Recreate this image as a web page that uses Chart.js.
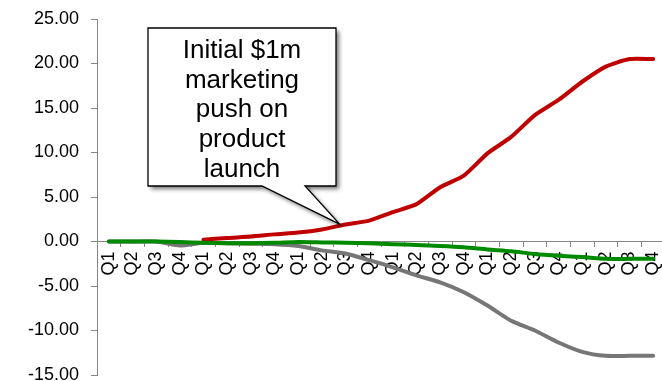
<!DOCTYPE html>
<html>
<head>
<meta charset="utf-8">
<script src="https://cdn.jsdelivr.net/npm/chart.js@4.4.0/dist/chart.umd.min.js"></script>
<style>
html, body { margin:0; padding:0; background:#fff; overflow:hidden; }
</style>
</head>
<body>
<canvas id="c" width="666" height="381"></canvas>
<script>
// categories: six years of quarters
var quarters = [];
for (var y = 0; y < 6; y++) {
	quarters.push('Q1', 'Q2', 'Q3', 'Q4');
}

// series values
var redSeries = [null, null, null, null, 0.2, 0.4, 0.55, 0.8, 1.0, 1.35, 1.9, 2.35,
	3.3, 4.2, 6.1, 7.4, 9.9, 11.75, 14.2, 15.9, 17.95, 19.65, 20.5, 20.5];
var greySeries = [0, 0, 0, -0.45, -0.15, -0.2, -0.25, -0.3, -0.5, -1.0, -1.35, -2.1,
	-2.9, -3.8, -4.6, -5.7, -7.2, -8.9, -10.0, -11.35, -12.4, -12.85, -12.85, -12.85];
var greenSeries = [0, 0, 0, -0.05, -0.15, -0.2, -0.2, -0.15, -0.05, -0.1, -0.15, -0.2,
	-0.3, -0.4, -0.5, -0.65, -0.9, -1.1, -1.4, -1.6, -1.75, -1.95, -1.95, -1.95];

var yMin = -15, yMax = 25, yStep = 5;
var calloutLines = ['Initial $1m', 'marketing', 'push on', 'product', 'launch'];
var calloutAt = { index: 9.75, value: 1.95 }; // where the pointer touches the red line

var FONT = "'Liberation Sans', Arial, sans-serif";
var AXIS = '#868686';

// speech bubble annotation
var calloutPlugin = {
	id: 'callout',
	afterDraw: function(chart) {
		var ctx = chart.ctx;
		var xs = chart.scales.x, ys = chart.scales.y;
		var tipX = xs.getPixelForValue(calloutAt.index);
		var tipY = ys.getPixelForValue(calloutAt.value);
		var L = 148, T = 28, R = 336, B = 186;
		ctx.save();
		ctx.beginPath();
		ctx.moveTo(L, T);
		ctx.lineTo(R, T);
		ctx.lineTo(R, B);
		ctx.lineTo(305, B);
		ctx.lineTo(tipX, tipY);
		ctx.lineTo(262, B);
		ctx.lineTo(L, B);
		ctx.closePath();
		ctx.shadowColor = 'rgba(0,0,0,0.55)';
		ctx.shadowBlur = 4;
		ctx.shadowOffsetX = 3;
		ctx.shadowOffsetY = 3;
		ctx.fillStyle = '#fff';
		ctx.fill();
		ctx.shadowColor = 'transparent';
		ctx.lineWidth = 1.3;
		ctx.strokeStyle = '#000';
		ctx.stroke();
		ctx.fillStyle = '#000';
		ctx.font = '26px ' + FONT;
		ctx.textAlign = 'center';
		ctx.textBaseline = 'alphabetic';
		for (var i = 0; i < calloutLines.length; i++) {
			ctx.fillText(calloutLines[i], (L + R) / 2, 58 + i * 29.7);
		}
		ctx.restore();
	}
};

var config = {
	type: 'line',
	data: {
		labels: quarters,
		datasets: [{
			label: 'Green',
			data: greenSeries,
			borderColor: '#008A00',
			backgroundColor: '#008A00'
		}, {
			label: 'Red',
			data: redSeries,
			borderColor: '#C00000',
			backgroundColor: '#C00000'
		}, {
			label: 'Grey',
			data: greySeries,
			borderColor: '#767676',
			backgroundColor: '#767676'
		}]
	},
	options: {
		responsive: false,
		animation: false,
		devicePixelRatio: 1,
		layout: { padding: { left: 0, right: 1, top: 19, bottom: 6 } },
		elements: {
			line: { borderWidth: 4, tension: 0.2, borderCapStyle: 'round', borderJoinStyle: 'round' },
			point: { radius: 0, hoverRadius: 0 }
		},
		plugins: {
			legend: { display: false },
			tooltip: { enabled: false }
		},
		scales: {
			x: {
				type: 'category',
				position: { y: 0 },
				offset: true,
				grid: { offset: true, drawOnChartArea: false, drawTicks: true, tickLength: 5, color: AXIS },
				border: { display: true, color: AXIS, width: 1 },
				ticks: {
					autoSkip: false, minRotation: 90, maxRotation: 90, padding: 5,
					color: '#000', font: { family: FONT, size: 18 }
				},
				afterFit: function(s) {
					s.paddingLeft = 0;
					s.paddingRight = 0;
				}
			},
			y: {
				min: yMin, max: yMax,
				grid: { drawOnChartArea: false, drawTicks: true, tickLength: 6, color: AXIS },
				border: { display: true, color: AXIS, width: 1 },
				ticks: {
					stepSize: yStep, padding: 12,
					color: '#000', font: { family: FONT, size: 18 },
					callback: function(v) { return Number(v).toFixed(2); }
				},
				afterFit: function(s) {
					s.width = 97;
					s.paddingTop = 0;
					s.paddingBottom = 0;
				}
			}
		}
	},
	plugins: [calloutPlugin]
};

var chart = new Chart(document.getElementById('c'), config);
</script>
</body>
</html>
